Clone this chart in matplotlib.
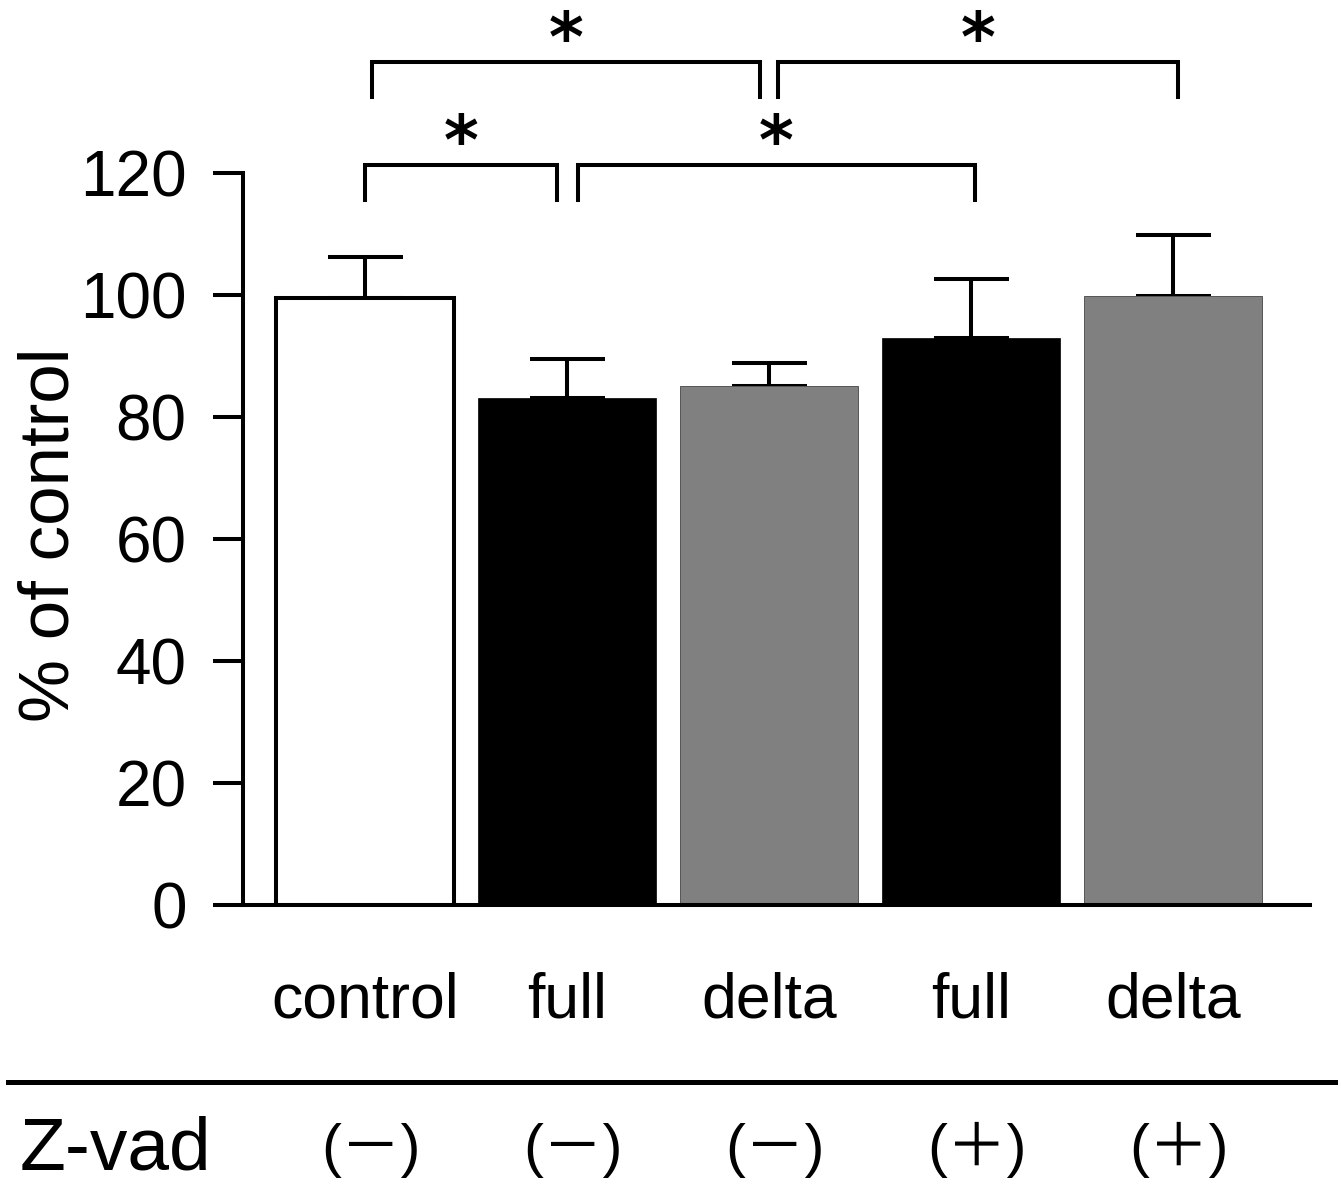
import matplotlib
matplotlib.use("Agg")
import matplotlib.pyplot as plt
from matplotlib.lines import Line2D

plt.rcParams['font.family'] = ['Liberation Sans', 'Noto Sans CJK JP', 'DejaVu Sans']

categories = ["control", "full", "delta", "full", "delta"]
zvad = ["(\uff0d)", "(\uff0d)", "(\uff0d)", "(\uff0b)", "(\uff0b)"]
means = [99.5, 83.1, 85.1, 93.0, 99.8]
errors = [6.7, 6.4, 3.8, 9.6, 10.0]
colors = ["white", "black", "#808080", "black", "#808080"]
edgecolors = ["black", "black", "#555555", "black", "#555555"]
edgewidths = [2.9, 0.5, 0.7, 0.5, 0.7]
yticks = [0, 20, 40, 60, 80, 100, 120]
# significance brackets: (x_start, x_end, y_level, leg_bottom)
brackets = [(0.0, 0.95, 121.3, 115.6), (1.054, 3.02, 121.3, 115.6),
            (0.035, 1.955, 138.2, 132.5), (2.045, 4.025, 138.2, 132.5)]

W, H = 1341, 1191
fig = plt.figure(figsize=(W/100, H/100), dpi=100)
left, right, top, bot = 243, 1310, 173, 905
ax = fig.add_axes([left/W, 1-bot/H, (right-left)/W, (bot-top)/H])

x = list(range(len(means)))
ax.bar(x, means, width=0.88, color=colors, edgecolor=edgecolors,
       linewidth=edgewidths, zorder=2)
ax.errorbar(x, means, yerr=[[0]*len(errors), errors], fmt='none',
            ecolor='black', elinewidth=2.9, capsize=27, capthick=2.9, zorder=1)

ax.set_xlim((left-365)/202, (right-365)/202)
ax.set_ylim(0, 120)
ax.set_yticks(yticks)
ax.set_yticklabels([str(v) for v in yticks], fontsize=46)
ax.set_xticks([])
for s in ['top', 'right']:
    ax.spines[s].set_visible(False)
for s in ['left', 'bottom']:
    ax.spines[s].set_linewidth(2.9)
ax.tick_params(axis='y', length=21.6, width=2.9, pad=19)

fig.text(51/W, 1-535/H, "% of control", rotation=90, ha='center', va='center',
         fontsize=51)

for (x0, x1, yl, yb) in brackets:
    ax.plot([x0, x0, x1, x1], [yb, yl, yl, yb], color='black', lw=2.9,
            clip_on=False, solid_joinstyle='miter')
    ax.text((x0+x1)/2, yl + 0.1, "*", ha='center', va='baseline', fontsize=48,
            family='DejaVu Sans', weight='bold', clip_on=False)

for xi, c in zip(x, categories):
    ax.text(xi, -18.4, c, ha='center', va='baseline', fontsize=45, clip_on=False)
for xi, z in zip(x, zvad):
    ax.text(xi + 0.03, -42.8, z, ha='center', va='baseline', fontsize=43,
            clip_on=False)

fig.text(20/W, 1-1169/H, "Z-vad", ha='left', va='baseline', fontsize=54)
fig.add_artist(Line2D([8/W, 1335/W], [1-1082/H, 1-1082/H], color='black', lw=3.6))

fig.savefig("out.png", dpi=100, facecolor='white')
